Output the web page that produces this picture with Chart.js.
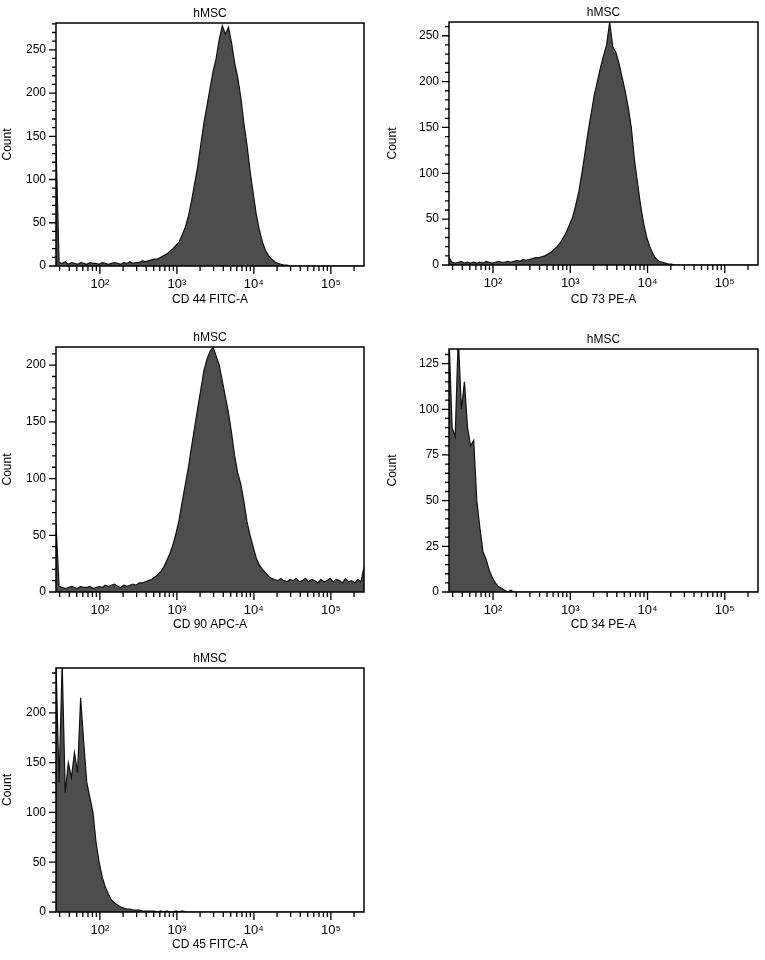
<!DOCTYPE html>
<html>
<head>
<meta charset="utf-8">
<script src="https://cdn.jsdelivr.net/npm/chart.js@4"></script>
<style>
  body { margin: 0; background: #fff; }
  .panel { position: absolute; width: 380px; height: 315px; }
</style>
</head>
<body>
<div class="panel" style="left:0;top:0"><canvas id="cd44"></canvas></div>
<div class="panel" style="left:385px;top:0"><canvas id="cd73"></canvas></div>
<div class="panel" style="left:0;top:325px"><canvas id="cd90"></canvas></div>
<div class="panel" style="left:385px;top:325px"><canvas id="cd34"></canvas></div>
<div class="panel" style="left:0;top:645px"><canvas id="cd45"></canvas></div>
<script>
// histogram bins: log10 start 1.43, width 0.04 (101 bins up to 5.43)
const binStart = 1.43;
const binStep = 0.04;
const xTickLabels = { 100: "10²", 1000: "10³", 10000: "10⁴", 100000: "10⁵" };

const cd44 = [140, 4, 3, 5, 2, 4, 3, 2, 4, 3,
  2, 4, 3, 3, 2, 4, 3, 2, 3, 4,
  3, 2, 4, 3, 5, 3, 4, 4, 6, 5,
  6, 7, 8, 8, 10, 12, 14, 17, 20, 24,
  28, 36, 45, 58, 75, 95, 115, 140, 165, 185,
  205, 225, 240, 262, 278, 268, 276, 258, 235, 218,
  195, 165, 140, 110, 85, 60, 42, 28, 18, 12,
  8, 5, 3, 2, 1, 1, 0, 0, 0, 0,
  0, 0, 0, 0, 0, 0, 0, 0, 0, 0,
  0, 0, 0, 0, 0, 0, 0, 0, 0, 0, 0];
const cd73 = [8, 3, 2, 3, 4, 2, 3, 2, 3, 2,
  3, 2, 4, 3, 2, 3, 4, 3, 3, 4,
  3, 4, 5, 4, 6, 5, 6, 7, 8, 8,
  9, 10, 12, 14, 17, 20, 24, 30, 36, 44,
  52, 65, 80, 100, 122, 145, 165, 185, 200, 215,
  228, 240, 265, 238, 232, 220, 205, 190, 172, 150,
  115, 90, 65, 45, 30, 20, 12, 7, 4, 3,
  2, 1, 1, 0, 0, 0, 0, 0, 0, 0,
  0, 0, 0, 0, 0, 0, 0, 0, 0, 0,
  0, 0, 0, 0, 0, 0, 0, 0, 0, 0, 0];
const cd90 = [60, 5, 4, 3, 4, 5, 4, 3, 5, 4,
  4, 5, 3, 4, 5, 4, 6, 5, 6, 7,
  5, 4, 6, 5, 6, 7, 6, 8, 8, 9,
  10, 11, 13, 15, 18, 22, 28, 34, 42, 52,
  64, 80, 95, 110, 128, 145, 162, 178, 195, 205,
  212, 216, 208, 200, 186, 172, 158, 140, 120, 105,
  95, 80, 62, 50, 40, 30, 24, 20, 17, 14,
  12, 11, 10, 12, 10, 9, 11, 10, 12, 9,
  10, 12, 9, 11, 10, 8, 11, 9, 10, 12,
  9, 11, 10, 8, 12, 9, 10, 8, 11, 9, 22];
const cd34 = [140, 90, 85, 140, 100, 115, 90, 80, 83, 50,
  35, 22, 18, 12, 8, 5, 3, 2, 1, 0,
  1, 0, 0, 0, 0, 0, 0, 0, 0, 0,
  0, 0, 0, 0, 0, 0, 0, 0, 0, 0,
  0, 0, 0, 0, 0, 0, 0, 0, 0, 0,
  0, 0, 0, 0, 0, 0, 0, 0, 0, 0,
  0, 0, 0, 0, 0, 0, 0, 0, 0, 0,
  0, 0, 0, 0, 0, 0, 0, 0, 0, 0,
  0, 0, 0, 0, 0, 0, 0, 0, 0, 0,
  0, 0, 0, 0, 0, 0, 0, 0, 0, 0, 0];
const cd45 = [250, 130, 250, 120, 150, 135, 160, 140, 215, 170,
  130, 115, 100, 70, 50, 35, 25, 18, 12, 9,
  7, 5, 4, 3, 3, 2, 2, 2, 1, 1,
  1, 1, 1, 0, 1, 0, 1, 0, 0, 1,
  0, 1, 0, 0, 0, 0, 0, 0, 0, 0,
  0, 0, 0, 0, 0, 0, 0, 0, 0, 0,
  0, 0, 0, 0, 0, 0, 0, 0, 0, 0,
  0, 0, 0, 0, 0, 0, 0, 0, 0, 0,
  0, 0, 0, 0, 0, 0, 0, 0, 0, 0,
  0, 0, 0, 0, 0, 0, 0, 0, 0, 0, 0];

const font = { family: "'Liberation Sans', Arial, sans-serif", size: 12 };
const supFont = { family: "'Liberation Sans', Arial, sans-serif", size: 13 };

const frame = {
  id: "frame",
  afterDraw(chart, args, opts) {
    const { ctx, chartArea: a, scales } = chart;
    ctx.save();
    ctx.strokeStyle = "#000";
    ctx.lineWidth = 1.5;
    ctx.strokeRect(a.left, a.top, a.right - a.left, a.bottom - a.top);
    ctx.lineWidth = 1.3;
    ctx.beginPath();
    // x ticks, majors at decades, minors at 2..9
    for (let d = 1; d <= 5; d++) {
      for (let m = 1; m <= 9; m++) {
        const v = m * Math.pow(10, d);
        if (v < scales.x.min || v > scales.x.max) continue;
        const px = scales.x.getPixelForValue(v);
        const len = m === 1 ? 8 : 5;
        ctx.moveTo(px, a.bottom);
        ctx.lineTo(px, a.bottom + len);
      }
    }
    // y ticks
    for (let v = 0; v <= opts.yMax; v += opts.minor) {
      const py = scales.y.getPixelForValue(v);
      const len = v % opts.major === 0 ? 7 : 4;
      ctx.moveTo(a.left, py);
      ctx.lineTo(a.left - len, py);
    }
    ctx.stroke();
    ctx.fillStyle = "#000";
    ctx.font = "12px " + font.family;
    ctx.textAlign = "center";
    ctx.fillText("hMSC", (a.left + a.right) / 2, a.top - 6);
    ctx.restore();
  }
};

function makeChart(id, counts, yMax, major, minor, xLabel, box) {
  const points = counts.map((c, i) => ({ x: Math.pow(10, binStart + i * binStep), y: c }));
  new Chart(document.getElementById(id), {
    type: "line",
    data: {
      datasets: [{
        data: points,
        fill: "origin",
        backgroundColor: "#4d4d4d",
        borderColor: "#111",
        borderWidth: 1.2,
        pointRadius: 0,
        tension: 0,
        clip: 0,
      }],
    },
    options: {
      animation: false,
      responsive: true,
      maintainAspectRatio: false,
      layout: { padding: { top: box.top, right: box.right, left: 0, bottom: 0 } },
      plugins: {
        legend: { display: false },
        tooltip: { enabled: false },
        frame: { yMax: yMax, major: major, minor: minor },
      },
      scales: {
        x: {
          type: "logarithmic",
          min: Math.pow(10, 1.43),
          max: Math.pow(10, 5.43),
          grid: { display: false, drawTicks: false },
          border: { display: false },
          afterBuildTicks: (s) => { s.ticks = [100, 1000, 10000, 100000].map((v) => ({ value: v })); },
          afterFit: (s) => { s.height = box.xh; },
          ticks: { color: "#000", font: supFont, padding: 11, maxRotation: 0, autoSkip: false,
            callback: (v) => xTickLabels[v] || "" },
          title: { display: true, text: xLabel, color: "#000", font: font, padding: { top: 0, bottom: 8 } },
        },
        y: {
          min: 0,
          max: yMax,
          grid: { display: false, drawTicks: false },
          border: { display: false },
          afterFit: (s) => { s.width = box.yw; },
          ticks: { color: "#000", font: font, padding: 10, stepSize: major,
            callback: (v) => (v % major === 0 ? v : "") },
          title: { display: true, text: "Count", color: "#000", font: font, padding: { top: 0, bottom: 0 } },
        },
      },
    },
    plugins: [frame],
  });
}

makeChart("cd44", cd44, 281, 50, 10, "CD 44 FITC-A", { top: 23, right: 16, yw: 56, xh: 49 });
makeChart("cd73", cd73, 265, 50, 10, "CD 73 PE-A", { top: 22, right: 7, yw: 64, xh: 50 });
makeChart("cd90", cd90, 216, 50, 10, "CD 90 APC-A", { top: 22, right: 16, yw: 56, xh: 48 });
makeChart("cd34", cd34, 133, 25, 5, "CD 34 PE-A", { top: 24, right: 7, yw: 64, xh: 48 });
makeChart("cd45", cd45, 245, 50, 10, "CD 45 FITC-A", { top: 23, right: 16, yw: 56, xh: 48 });
</script>
</body>
</html>
